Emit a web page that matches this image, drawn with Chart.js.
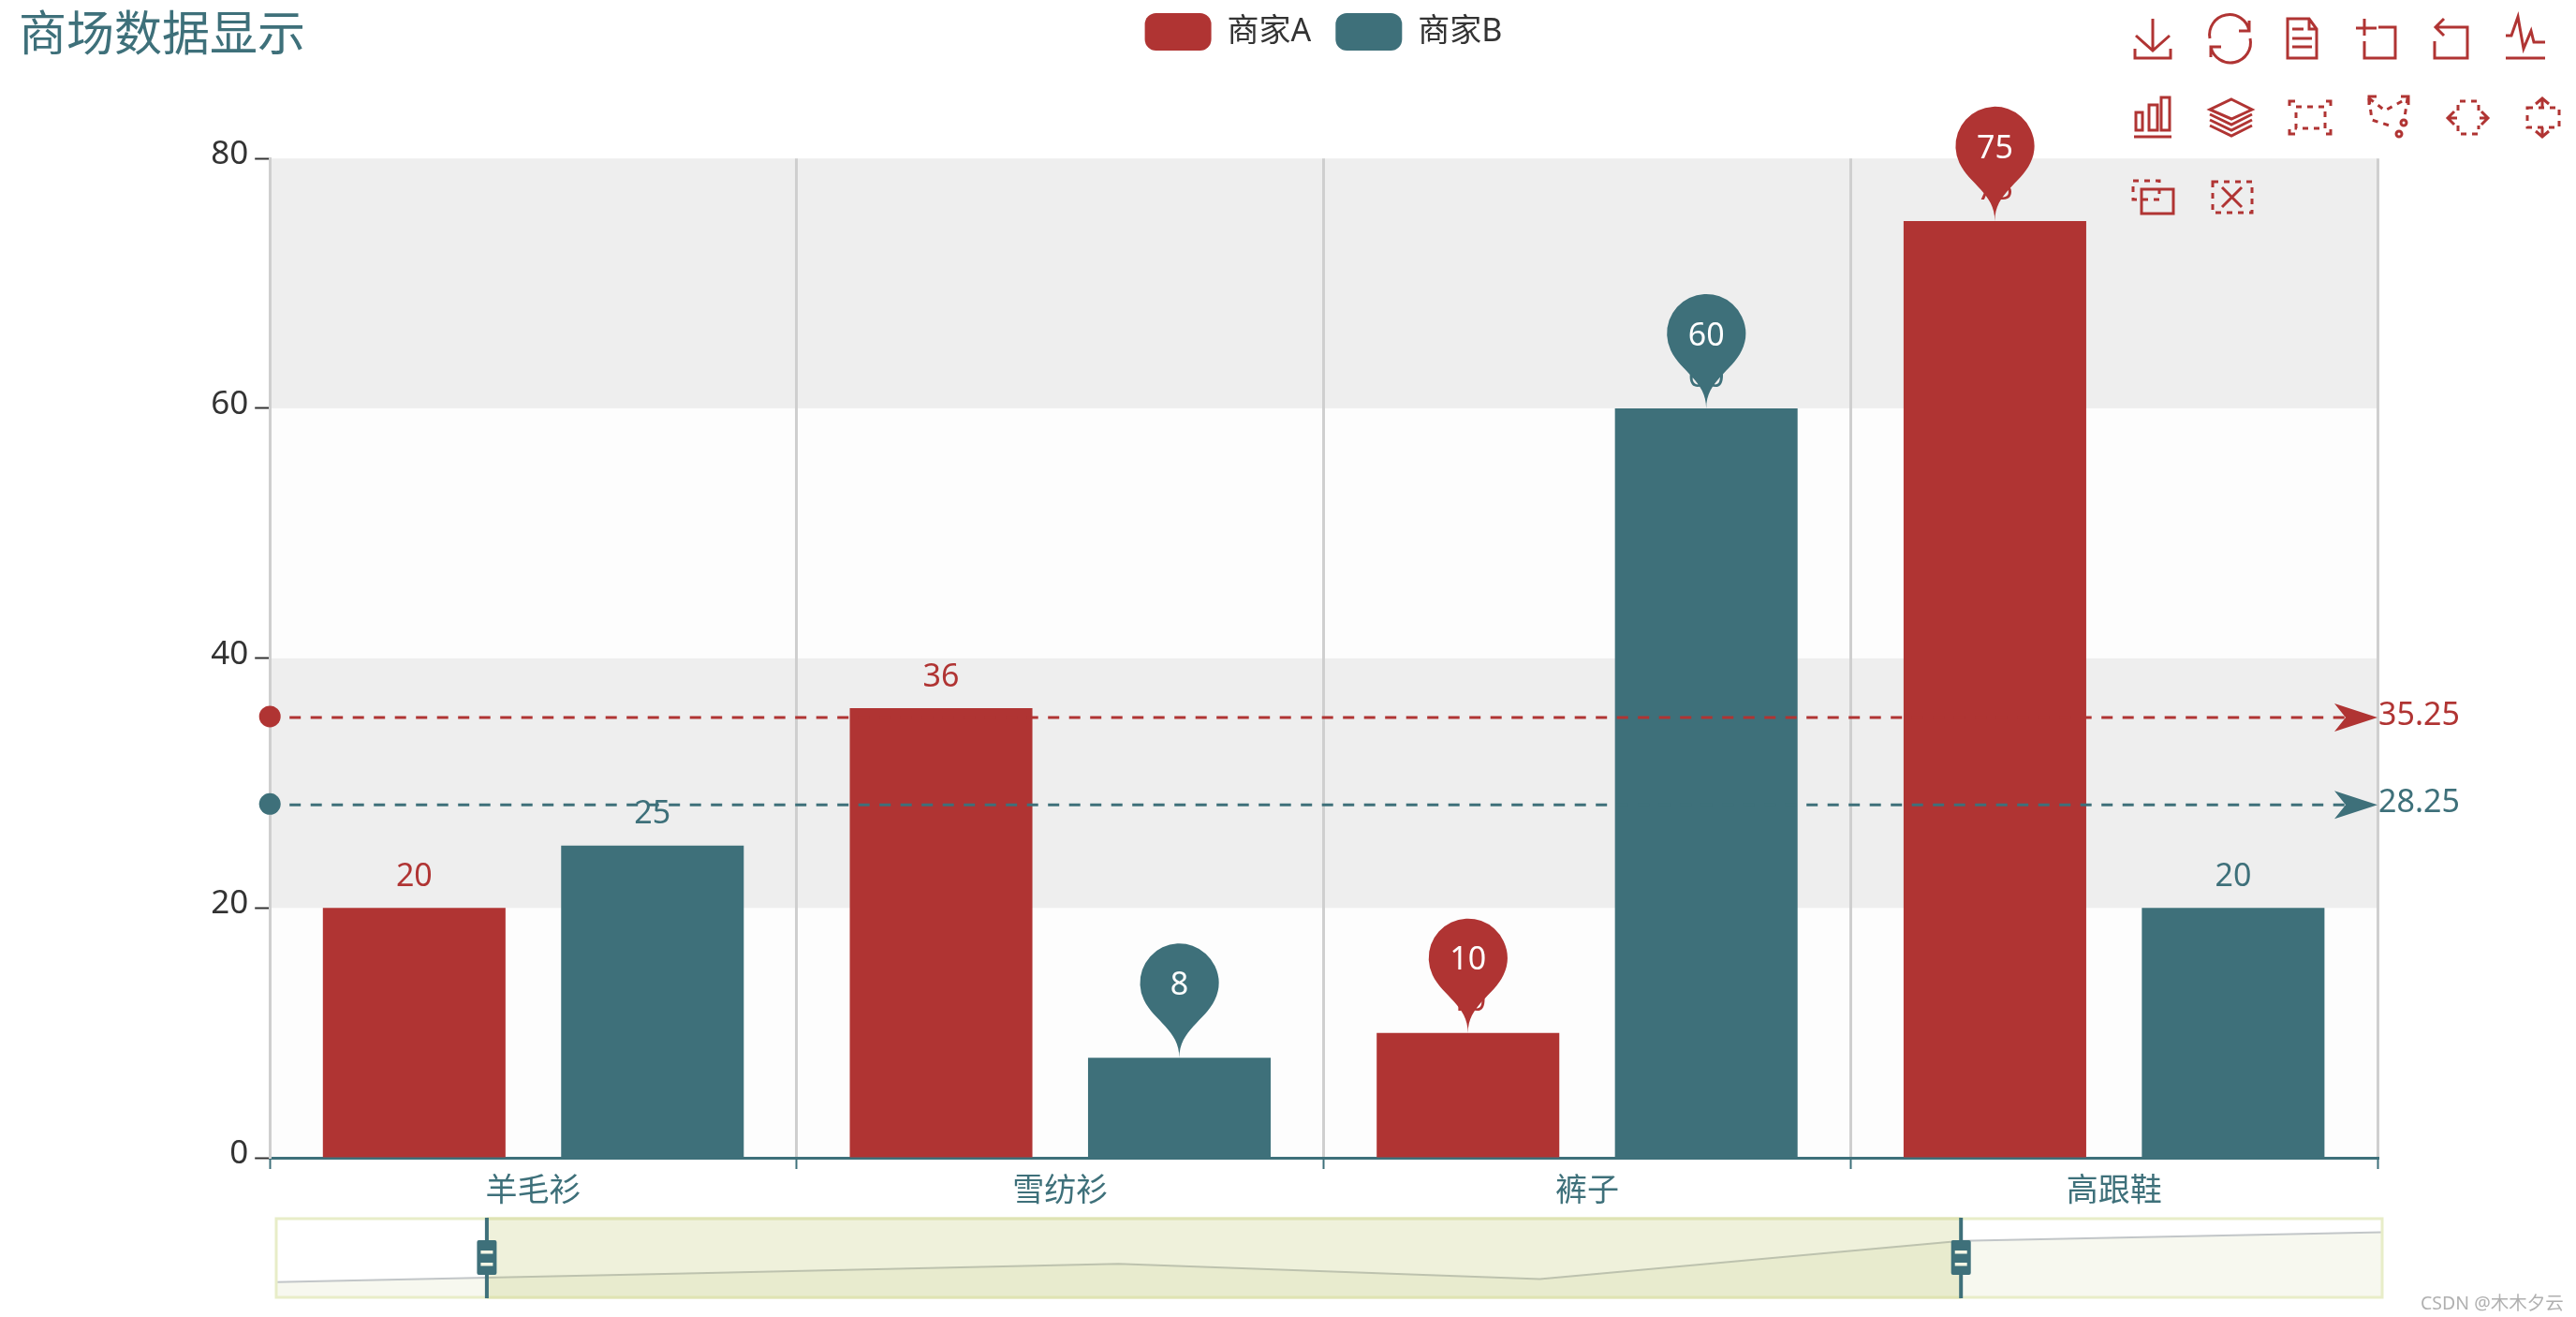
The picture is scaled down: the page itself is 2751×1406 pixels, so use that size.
<!DOCTYPE html>
<html>
<head>
<meta charset="utf-8">
<title>商场数据显示</title>
<script src="https://cdn.jsdelivr.net/npm/chart.js@4/dist/chart.umd.js"></script>
<style>
    html, body { margin: 0; padding: 0; background: #fff; overflow: hidden; }
    #main { position: absolute; left: 0; top: 0; }
    #slider { position: absolute; left: 290px; top: 1296px; }
    #toolbox { position: absolute; left: 0; top: 0; pointer-events: none; }
    #toolbox * { fill: none; stroke: #b03433; stroke-width: 3; }
    #toolbox .dash { stroke-dasharray: 6 6; }
    #mark { position: absolute; left: 2585px; top: 1375px; color: #b0b0b0; font: 19.5px "Noto Sans", "Noto Sans CJK SC", sans-serif; white-space: nowrap; }
</style>
</head>
<body>
<canvas id="main" width="2751" height="1406"></canvas>
<canvas id="slider" width="2259" height="94"></canvas>

<!-- toolbox icons -->
<svg id="toolbox" width="2751" height="1406">
    <path d="M2299 20V54M2281 38L2299 54L2317 38M2280 52V62H2318V52"/>
    <path d="M2360 41A21 21 0 0 1 2402 33M2402 22V33H2391M2403 41A21 21 0 0 1 2361 50M2361 61V50H2372"/>
    <path d="M2443 20H2466L2474 31V62H2443ZM2466 20V31H2474M2448 31H2460M2448 41H2469M2448 50H2469"/>
    <path d="M2525 44V62H2558V29H2540M2516 30H2538M2525 20V38"/>
    <path d="M2600 44V62H2635V29H2602M2610 20L2601 29L2610 38"/>
    <path d="M2676 38H2682L2689 18L2695 52L2703 33L2706 45H2718M2676 62H2718"/>

    <path d="M2279 146H2319M2281 120H2288V139H2281ZM2295 112H2304V139H2295ZM2308 104H2317V139H2308Z"/>
    <path d="M2383 106L2405 117L2383 127L2360 117ZM2360 122L2383 133L2405 122M2360 128L2383 139L2405 128M2360 134L2383 145L2405 134"/>
    <path d="M2445 113V108H2451M2484 108H2489V113M2489 138V143H2484M2451 143H2445V138"/>
    <rect class="dash" x="2452" y="114" width="31" height="23"/>
    <path class="dash" d="M2530 105L2533 128L2555 135M2530 105L2547 118L2571 105L2568 125"/>
    <path d="M2530 112V103H2538M2564 103H2572V112"/>
    <circle cx="2567" cy="131" r="3"/>
    <circle cx="2562" cy="143" r="3"/>
    <path class="dash" d="M2625 118V108H2647V118M2625 134V143H2647V134"/>
    <path d="M2624 126H2614M2621 119L2614 126L2621 133M2648 126H2657M2650 119L2657 126L2650 133"/>
    <path class="dash" d="M2699 115H2733V136H2699Z"/>
    <path d="M2715 115V105M2708 111L2715 105L2722 111M2715 136V146M2708 140L2715 146L2722 140"/>

    <rect class="dash" x="2278" y="193" width="28" height="20"/>
    <rect x="2287" y="202" width="34" height="26"/>
    <rect class="dash" x="2363" y="194" width="42" height="33"/>
    <path d="M2373 200L2394 221M2394 200L2373 221"/>
</svg>
<div id="mark">CSDN @木木夕云</div>

<script>
// Series shown in the main chart
const categories = ['羊毛衫', '雪纺衫', '裤子', '高跟鞋'];
const seriesNames = ['商家A', '商家B'];
const valuesA = [20, 36, 10, 75];
const valuesB = [25, 8, 60, 20];
const averages = [35.25, 28.25];
const yTickValues = [0, 20, 40, 60, 80];

// Overview line in the range slider, covers all categories
const allCategories = ['衬衫', '羊毛衫', '雪纺衫', '裤子', '高跟鞋', '袜子'];
const overviewValues = [5, 20, 36, 10, 75, 90];
const zoomRange = [10, 80]; // percent

const RED = '#b03433';
const TEAL = '#3e707a';
const FONT = '"Noto Sans", "Noto Sans CJK SC", sans-serif';
const colors = [RED, TEAL];

// Teardrop marker, tip sits on (x, y)
function drawPin(ctx, x, y, size, color, text) {
    const w = size / 5 * 3;
    const r = w / 2;
    const dy = r * r / (size - r);
    const cy = y - size + r + dy;
    const angle = Math.asin(dy / r);
    const dx = Math.cos(angle) * r;
    const tanX = Math.sin(angle);
    const tanY = Math.cos(angle);
    const cpLen = r * 0.6;
    const cpLen2 = r * 0.7;

    ctx.fillStyle = color;
    ctx.beginPath();
    ctx.moveTo(x - dx, cy + dy);
    ctx.arc(x, cy, r, Math.PI - angle, Math.PI * 2 + angle);
    ctx.bezierCurveTo(x + dx - tanX * cpLen, cy + dy + tanY * cpLen, x, y - cpLen2, x, y);
    ctx.bezierCurveTo(x, y - cpLen2, x - dx + tanX * cpLen, cy + dy + tanY * cpLen, x - dx, cy + dy);
    ctx.closePath();
    ctx.fill();

    ctx.fillStyle = '#fff';
    ctx.font = '34px ' + FONT;
    ctx.textAlign = 'center';
    ctx.textBaseline = 'middle';
    ctx.fillText(text, x, cy + 3);
}

// Alternating bands behind the bars
const bandPlugin = {
    id: 'bands',
    beforeDraw(chart) {
        const { ctx, chartArea, scales } = chart;
        ctx.save();
        for (let i = 0; i < yTickValues.length - 1; i++) {
            const top = scales.y.getPixelForValue(yTickValues[i + 1]);
            const bottom = scales.y.getPixelForValue(yTickValues[i]);
            ctx.fillStyle = i % 2 === 0 ? '#fdfdfd' : '#eeeeee';
            ctx.fillRect(chartArea.left, top, chartArea.right - chartArea.left, bottom - top);
        }
        ctx.restore();
    }
};

// Title and legend share the top row
const headerPlugin = {
    id: 'header',
    afterLayout(chart) {
        chart.titleBlock.left = 20;
        chart.titleBlock.top = 9;
        chart.legend.left = 0;
        chart.legend.right = 2827;
        chart.legend.top = -12;
    }
};

// Average lines, value labels and max/min pins
const markPlugin = {
    id: 'marks',
    afterDatasetsDraw(chart) {
        const { ctx, chartArea, scales } = chart;
        ctx.save();

        averages.forEach((avg, i) => {
            const y = scales.y.getPixelForValue(avg);
            ctx.strokeStyle = colors[i];
            ctx.fillStyle = colors[i];
            ctx.lineWidth = 3;
            ctx.setLineDash([12, 10.5]);
            ctx.beginPath();
            ctx.moveTo(chartArea.left + 21, y);
            ctx.lineTo(chartArea.right - 34, y);
            ctx.stroke();
            ctx.setLineDash([]);

            ctx.beginPath();
            ctx.arc(chartArea.left, y - 1, 11.5, 0, Math.PI * 2);
            ctx.fill();

            const tip = chartArea.right;
            ctx.beginPath();
            ctx.moveTo(tip, y);
            ctx.lineTo(tip - 46, y - 15);
            ctx.lineTo(tip - 34, y);
            ctx.lineTo(tip - 46, y + 15);
            ctx.closePath();
            ctx.fill();

            ctx.font = '34px ' + FONT;
            ctx.textAlign = 'left';
            ctx.textBaseline = 'middle';
            ctx.fillText(avg, tip + 1, y - 2);
        });

        chart.data.datasets.forEach((dataset, i) => {
            const bars = chart.getDatasetMeta(i).data;
            ctx.fillStyle = colors[i];
            ctx.font = '34px ' + FONT;
            ctx.textAlign = 'center';
            ctx.textBaseline = 'middle';
            dataset.data.forEach((value, j) => {
                ctx.fillText(value, bars[j].x, bars[j].y - 33);
            });
        });

        chart.data.datasets.forEach((dataset, i) => {
            const bars = chart.getDatasetMeta(i).data;
            const picks = [Math.max(...dataset.data), Math.min(...dataset.data)];
            picks.forEach(value => {
                const j = dataset.data.indexOf(value);
                drawPin(ctx, bars[j].x, bars[j].y, 140, colors[i], value);
            });
        });

        ctx.restore();
    }
};

new Chart(document.getElementById('main'), {
    type: 'bar',
    data: {
        labels: categories,
        datasets: [
            { label: seriesNames[0], data: valuesA, backgroundColor: RED },
            { label: seriesNames[1], data: valuesB, backgroundColor: TEAL }
        ]
    },
    options: {
        responsive: false,
        animation: false,
        categoryPercentage: 0.9044,
        barPercentage: 0.7665,
        layout: { padding: { top: 32, right: 212, left: 0, bottom: 0 } },
        plugins: {
            tooltip: { enabled: false },
            title: {
                display: true,
                text: '商场数据显示',
                align: 'start',
                color: TEAL,
                font: { size: 51, family: FONT, weight: 'normal', lineHeight: 1.2 },
                padding: 0
            },
            legend: {
                display: true,
                labels: {
                    boxWidth: 71,
                    boxHeight: 40,
                    padding: 26,
                    useBorderRadius: true,
                    borderRadius: 12,
                    color: '#333',
                    font: { size: 34, family: FONT }
                }
            }
        },
        scales: {
            x: {
                afterFit(axis) { axis.height = 170; },
                border: { color: TEAL, width: 3 },
                grid: { offset: true, color: '#cfcfcf', lineWidth: 3, tickColor: TEAL, tickWidth: 2, tickLength: 12 },
                ticks: { color: TEAL, padding: 4, font: { size: 34, family: FONT }, maxRotation: 0 }
            },
            y: {
                min: 0,
                max: 80,
                afterBuildTicks(axis) { axis.ticks = yTickValues.map(value => ({ value })); },
                afterFit(axis) { axis.width = 288.2; },
                border: { color: '#cfcfcf', width: 3 },
                grid: { drawOnChartArea: false, tickColor: '#333', tickWidth: 2, tickLength: 16 },
                ticks: { color: '#333', padding: 7, labelOffset: -4, font: { size: 35, family: FONT } }
            }
        }
    },
    plugins: [bandPlugin, headerPlugin, markPlugin]
});

// Selected window and drag handles of the range slider
const windowPlugin = {
    id: 'zoomWindow',
    afterDatasetsDraw(chart) {
        const { ctx, chartArea } = chart;
        const { left, right, top, bottom } = chartArea;
        const x0 = left + (right - left) * zoomRange[0] / 100;
        const x1 = left + (right - left) * zoomRange[1] / 100;

        ctx.save();
        ctx.fillStyle = 'rgba(171, 181, 66, 0.19)';
        ctx.fillRect(x0, top, x1 - x0, bottom - top);

        ctx.lineWidth = 3;
        ctx.strokeStyle = '#e8edc8';
        ctx.strokeRect(left, top, right - left, bottom - top);
        ctx.strokeStyle = '#dfe3b3';
        ctx.beginPath();
        ctx.moveTo(x0, top);
        ctx.lineTo(x1, top);
        ctx.moveTo(x0, bottom);
        ctx.lineTo(x1, bottom);
        ctx.stroke();

        [x0, x1].forEach(x => {
            const mid = (top + bottom) / 2;
            ctx.fillStyle = TEAL;
            ctx.fillRect(x - 2, top - 1, 4, bottom - top + 2);
            ctx.beginPath();
            ctx.roundRect(x - 10.5, mid - 19, 21, 37, 2);
            ctx.fill();
            ctx.fillStyle = '#f4f5e4';
            ctx.fillRect(x - 6.5, mid - 8, 13, 3.5);
            ctx.fillRect(x - 6.5, mid + 5, 13, 3.5);
        });
        ctx.restore();
    }
};

new Chart(document.getElementById('slider'), {
    type: 'line',
    data: {
        labels: allCategories,
        datasets: [{
            data: overviewValues,
            borderColor: '#c2c6c8',
            borderWidth: 2,
            backgroundColor: '#f7f8ef',
            fill: 'start',
            pointRadius: 0,
            tension: 0
        }]
    },
    options: {
        responsive: false,
        animation: false,
        layout: { padding: 5 },
        plugins: { legend: { display: false }, tooltip: { enabled: false } },
        scales: {
            x: { display: false },
            y: { display: false, min: -21, max: 113 }
        }
    },
    plugins: [windowPlugin]
});
</script>
</body>
</html>
